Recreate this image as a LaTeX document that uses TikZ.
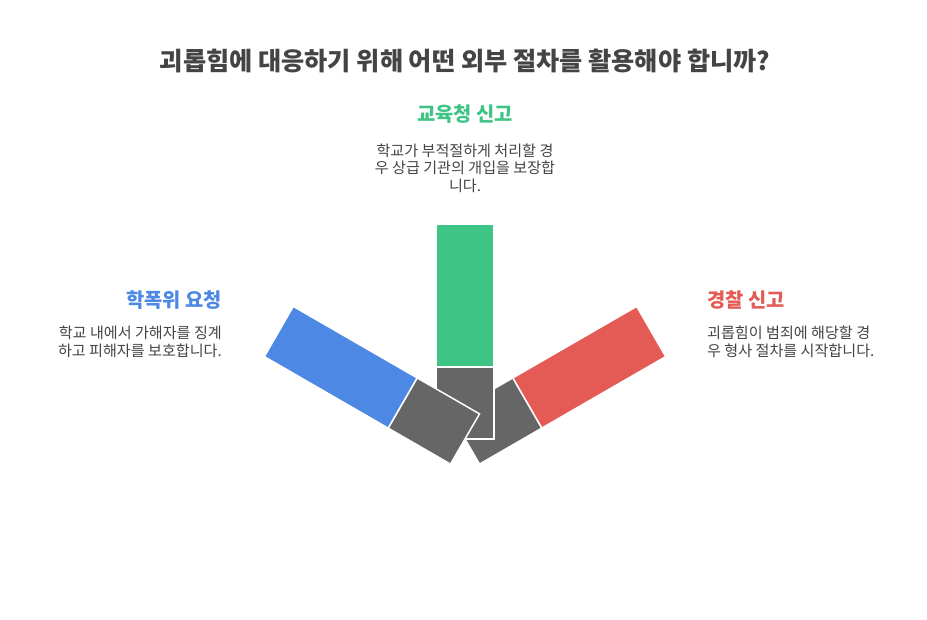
\documentclass[tikz,border=0pt]{standalone}
\usepackage{fontspec}
\newfontfamily\kr{Noto Sans CJK KR}
\definecolor{cblue}{HTML}{4D88E5}
\definecolor{cgreen}{HTML}{3EC585}
\definecolor{cred}{HTML}{E45A54}
\definecolor{cgrey}{HTML}{666666}
\definecolor{ctext}{HTML}{444444}
\tikzset{
  piece/.style={draw=white, line width=1.5pt},
  heading/.style={inner sep=0pt, font=\kr\bfseries\fontsize{19.8}{24}\selectfont},
  body/.style={inner sep=0pt, text=ctext, font=\kr\fontsize{15.1}{17.5}\selectfont},
}
\newcommand{\fanbar}[2]{%
  \begin{scope}[shift={(465,180)}, rotate=#1]
    \fill[cgrey, piece] (-29,0) rectangle (29,72);
    \fill[#2, piece] (-29,72) rectangle (29,215);
  \end{scope}}
\begin{document}
\begin{tikzpicture}[x=1pt,y=1pt]
\useasboundingbox (0,0) rectangle (927,619);
\fill[white] (0,0) rectangle (927,619);
\node[inner sep=0pt, text=ctext, font=\kr\bfseries\fontsize{25.2}{29}\selectfont] (title) at (465,558) {괴롭힘에 대응하기 위해 어떤 외부 절차를 활용해야 합니까?};
% bars
\fanbar{-60}{cred}
\fanbar{0}{cgreen}
\fanbar{60}{cblue}
% center
\node[heading, text=cgreen] (gh) at (465,505) {교육청 신고};
\node[body, align=center] (gb) at (465,451) {학교가 부적절하게 처리할 경\\우 상급 기관의 개입을 보장합\\니다.};
% left
\node[heading, text=cblue, anchor=east] (bh) at (222,319) {학폭위 요청};
\node[body, align=right, anchor=east] (bb) at (222,277) {학교 내에서 가해자를 징계\\하고 피해자를 보호합니다.};
% right
\node[heading, text=cred, anchor=west] (rh) at (707,319) {경찰 신고};
\node[body, align=left, anchor=west] (rb) at (707,277) {괴롭힘이 범죄에 해당할 경\\우 형사 절차를 시작합니다.};
\end{tikzpicture}
\end{document}
